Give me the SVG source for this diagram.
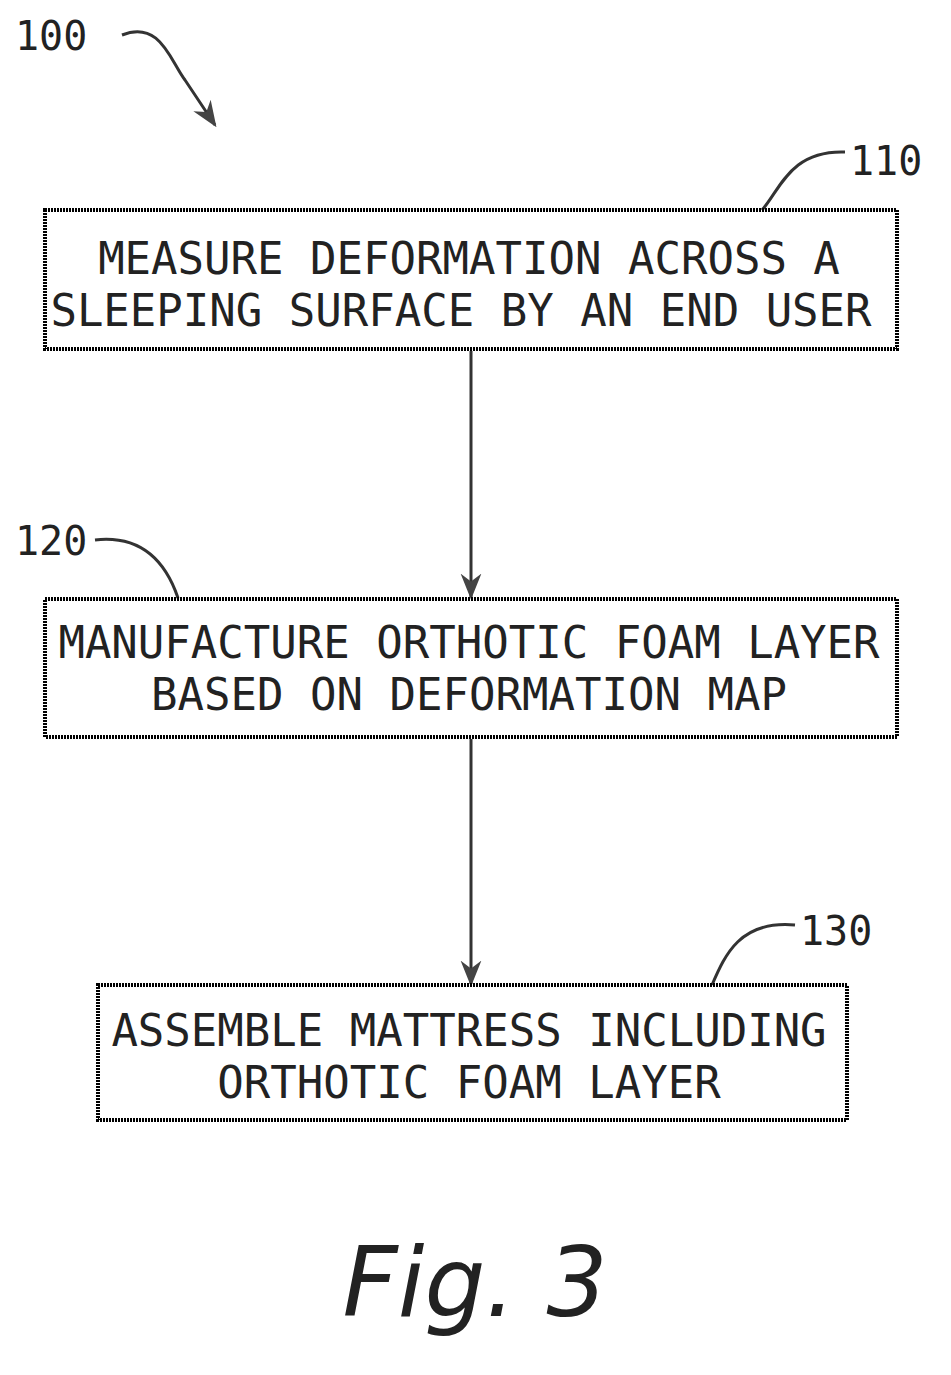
<svg xmlns="http://www.w3.org/2000/svg" width="951" height="1375" viewBox="0 0 951 1375">
<style>
.box{fill:none;stroke:#000;stroke-width:4;stroke-dasharray:2 1}
.t{font-family:"DejaVu Sans Mono",monospace;font-size:44px;fill:#222;text-anchor:middle}
.r{font-family:"DejaVu Sans Mono",monospace;font-size:40px;fill:#222}
.c{fill:none;stroke:#333;stroke-width:3}
</style>
<defs><marker id="a" viewBox="0 0 10 10" refX="9" refY="5" markerWidth="8" markerHeight="8" orient="auto-start-reverse" markerUnits="userSpaceOnUse"><path d="M0,0 L10,5 L0,10 L3,5 Z" fill="#333"/></marker>
<marker id="b" viewBox="0 0 10 10" refX="9" refY="5" markerWidth="26" markerHeight="26" orient="auto" markerUnits="userSpaceOnUse"><path d="M0,1 L10,5 L0,9 L3,5 Z" fill="#444"/></marker></defs>
<g id="connectors">
<line class="c" x1="471" y1="351" x2="471" y2="597" marker-end="url(#b)"/>
<line class="c" x1="471" y1="739" x2="471" y2="984" marker-end="url(#b)"/>
<path class="c" d="M122,35 C160,20 170,60 185,80 C195,95 205,110 215,125" marker-end="url(#b)"/>
<path class="c" d="M845,152 C790,150 780,190 762,210"/>
<path class="c" d="M95,540 C140,535 165,560 178,598"/>
<path class="c" d="M795,925 C740,920 725,955 712,985"/>
</g>
<g id="n100"><text class="r" x="15" y="50">100</text></g>
<g id="n110"><rect class="box" x="45" y="210" width="852" height="139"/>
<text class="t" x="469" y="274">MEASURE DEFORMATION ACROSS A</text>
<text class="t" x="461" y="326">SLEEPING SURFACE BY AN END USER</text>
<text class="r" x="850" y="175">110</text></g>
<g id="n120"><rect class="box" x="45" y="599" width="852" height="138"/>
<text class="t" x="469" y="658">MANUFACTURE ORTHOTIC FOAM LAYER</text>
<text class="t" x="469" y="710">BASED ON DEFORMATION MAP</text>
<text class="r" x="15" y="555">120</text></g>
<g id="n130"><rect class="box" x="98" y="985" width="749" height="135"/>
<text class="t" x="469" y="1046">ASSEMBLE MATTRESS INCLUDING</text>
<text class="t" x="469" y="1098">ORTHOTIC FOAM LAYER</text>
<text class="r" x="800" y="945">130</text></g>
<text x="475" y="1316" style="font-family:'DejaVu Sans',sans-serif;font-style:italic;font-size:96px;font-weight:300;fill:#222;text-anchor:middle">Fig. 3</text>
</svg>
